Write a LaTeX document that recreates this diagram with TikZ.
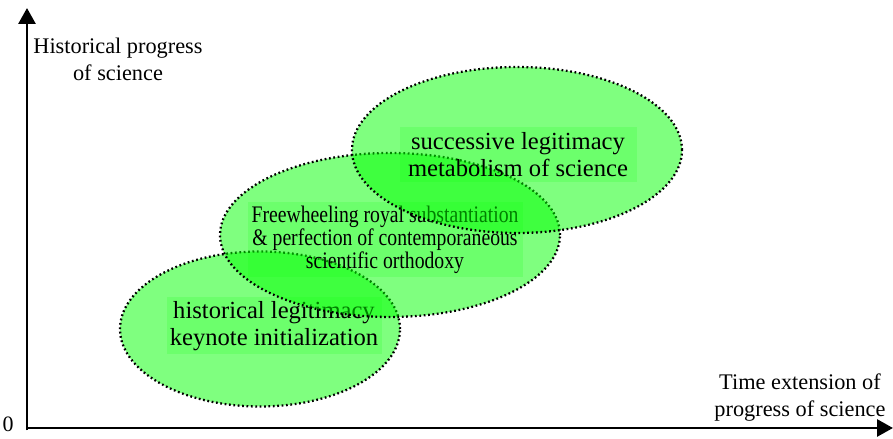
\documentclass[tikz,border=0pt]{standalone}
\usepackage{fontspec}
\setmainfont{Liberation Serif}
\newfontfamily\narrowfont[FakeStretch=0.83]{Liberation Serif}
\usetikzlibrary{shapes.geometric,arrows.meta}

\tikzset{
	axis/.style={line width=1.6pt, -{Triangle[length=0.32cm,width=0.34cm]}},
	blob/.style={ellipse, draw=black, fill=green, fill opacity=0.5, draw opacity=1,
		line width=1.3pt, dash pattern=on 1pt off 1.5pt, inner sep=0pt},
	tagbox/.style={fill=green, fill opacity=0.15, text opacity=1, align=center,
		font=\fontsize{14}{15.4}\selectfont, inner sep=0pt},
	axistext/.style={align=center, font=\fontsize{12.7}{15.4}\selectfont}
}

\begin{document}
\begin{tikzpicture}
	    \useasboundingbox (0,0) rectangle (17.86,8.78);
	    % axes
	    \coordinate (O) at (0.54,0.22);
	    \coordinate (ytop) at (0.54,8.62);
	    \coordinate (xend) at (17.86,0.22);
	    \draw[axis] (0.54,0.17) -- (ytop);
	    \draw[axis] (O) -- (xend);
	    \node (zero) at (0.16,0.3) {\fontsize{12.5}{15}\selectfont 0};
	    \node[axistext] (ylab) at (2.36,7.6) {Historical progress\\of science};
	    \node[axistext] (xlab) at (16.0,0.82) {Time extension of\\progress of science};
	    % ellipses with their texts
	    \node[blob, minimum width=5.6cm, minimum height=3.1cm] (low) at (5.2,2.2) {};
	    \node[tagbox, minimum width=4.3cm, minimum height=1.14cm] (lowtxt) at (5.48,2.26)
	        {historical legitimacy\\keynote initialization};
	    \node[blob, minimum width=6.8cm, minimum height=3.28cm] (mid) at (7.8,4.08) {};
	    \node[tagbox, minimum width=5.5cm, minimum height=1.5cm,
	          font=\narrowfont\fontsize{13.5}{13.2}\selectfont] (midtxt) at (7.7,3.98)
	        {Freewheeling royal substantiation\\\& perfection of contemporaneous\\scientific orthodoxy};
	    \node[blob, minimum width=6.6cm, minimum height=3.32cm] (up) at (10.34,5.78) {};
	    \node[tagbox, minimum width=4.74cm, minimum height=1.1cm] (uptxt) at (10.36,5.68)
	        {successive legitimacy\\metabolism of science};
\end{tikzpicture}
\end{document}
